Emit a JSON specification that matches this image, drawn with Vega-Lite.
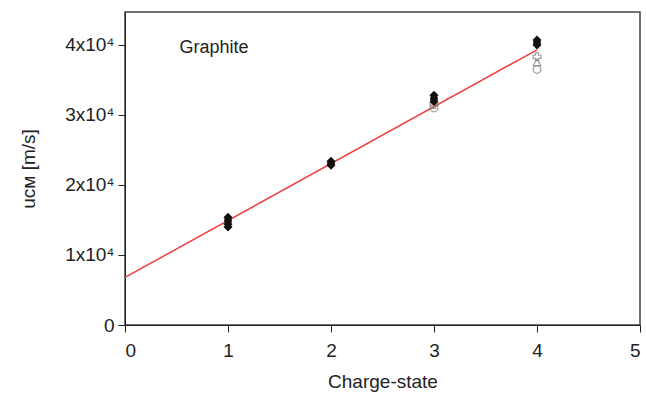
{
  "$schema": "https://vega.github.io/schema/vega-lite/v6.json",
  "width": 515,
  "height": 313,
  "autosize": "none",
  "padding": {"left": 125, "top": 12, "right": 6, "bottom": 73},
  "config": {
    "font": "Liberation Sans",
    "view": {"stroke": "#444", "strokeWidth": 1.5},
    "axis": {"grid": false, "domainColor": "#222", "tickColor": "#222", "labelColor": "#222", "titleColor": "#222", "labelFontSize": 19, "titleFontSize": 19, "titleFontWeight": "normal", "tickSize": 7, "labelPadding": 4}
  },
  "datasets": {
    "pts": [
      {"q": 1, "u": 15400, "s": "A"}, {"q": 2, "u": 23400, "s": "A"}, {"q": 3, "u": 32800, "s": "A"}, {"q": 4, "u": 40700, "s": "A"},
      {"q": 1, "u": 14900, "s": "B"}, {"q": 2, "u": 23100, "s": "B"}, {"q": 3, "u": 32300, "s": "B"}, {"q": 4, "u": 40300, "s": "B"},
      {"q": 1, "u": 14400, "s": "C"}, {"q": 2, "u": 22800, "s": "C"}, {"q": 3, "u": 31900, "s": "C"}, {"q": 4, "u": 40000, "s": "C"},
      {"q": 1, "u": 14000, "s": "C"},
      {"q": 3, "u": 31000, "s": "D"}, {"q": 4, "u": 36500, "s": "D"},
      {"q": 3, "u": 31500, "s": "E"}, {"q": 4, "u": 38300, "s": "E"},
      {"q": 4, "u": 37500, "s": "F"}
    ],
    "fit": [{"q": 0, "u": 6800}, {"q": 4, "u": 39300}],
    "lbl": [{"q": 0.53, "u": 39600, "t": "Graphite"}]
  },
  "layer": [
    {
      "data": {"name": "fit"},
      "mark": {"type": "line", "color": "#f03c3c", "strokeWidth": 1.5},
      "encoding": {
        "x": {"field": "q", "type": "quantitative", "scale": {"domain": [0, 5], "nice": false}, "axis": {"values": [0, 1, 2, 3, 4, 5], "format": "d", "title": "Charge-state", "titlePadding": 12, "labelPadding": 9}},
        "y": {"field": "u", "type": "quantitative", "scale": {"domain": [0, 44700], "nice": false}, "axis": {"values": [0, 5000, 10000, 15000, 20000, 25000, 30000, 35000, 40000], "labelExpr": "datum.value == 0 ? '0' : (datum.value % 10000 == 0 ? (datum.value/10000) + 'x10⁴' : '')", "title": "uᴄᴍ [m/s]", "titlePadding": 26}}
      }
    },
    {
      "data": {"name": "pts"},
      "transform": [{"filter": "datum.s == 'D'"}],
      "mark": {"type": "point", "shape": "circle", "filled": false, "stroke": "#777", "strokeWidth": 1.2, "size": 60},
      "encoding": {"x": {"field": "q", "type": "quantitative"}, "y": {"field": "u", "type": "quantitative"}}
    },
    {
      "data": {"name": "pts"},
      "transform": [{"filter": "datum.s == 'E'"}],
      "mark": {"type": "point", "shape": "cross", "filled": false, "stroke": "#777", "strokeWidth": 1.2, "size": 60},
      "encoding": {"x": {"field": "q", "type": "quantitative"}, "y": {"field": "u", "type": "quantitative"}}
    },
    {
      "data": {"name": "pts"},
      "transform": [{"filter": "datum.s == 'F'"}],
      "mark": {"type": "point", "shape": "triangle-up", "filled": false, "stroke": "#777", "strokeWidth": 1.2, "size": 60},
      "encoding": {"x": {"field": "q", "type": "quantitative"}, "y": {"field": "u", "type": "quantitative"}}
    },
    {
      "data": {"name": "pts"},
      "transform": [{"filter": "datum.s == 'A' || datum.s == 'C'"}],
      "mark": {"type": "point", "shape": "diamond", "filled": true, "color": "#111", "opacity": 1, "size": 80},
      "encoding": {"x": {"field": "q", "type": "quantitative"}, "y": {"field": "u", "type": "quantitative"}}
    },
    {
      "data": {"name": "pts"},
      "transform": [{"filter": "datum.s == 'B'"}],
      "mark": {"type": "point", "shape": "circle", "filled": true, "color": "#111", "opacity": 1, "size": 60},
      "encoding": {"x": {"field": "q", "type": "quantitative"}, "y": {"field": "u", "type": "quantitative"}}
    },
    {
      "data": {"name": "lbl"},
      "mark": {"type": "text", "align": "left", "baseline": "middle", "fontSize": 18, "color": "#222"},
      "encoding": {"x": {"field": "q", "type": "quantitative"}, "y": {"field": "u", "type": "quantitative"}, "text": {"field": "t"}}
    }
  ]
}
